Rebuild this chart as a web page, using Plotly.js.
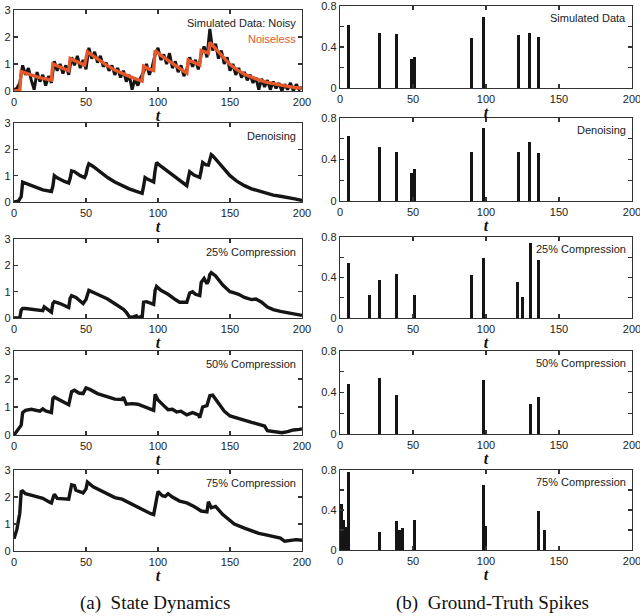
<!DOCTYPE html>
<html>
<head>
<meta charset="utf-8">
<script src="https://cdn.plot.ly/plotly-3.0.1.min.js"></script>
<style>
	html, body { margin: 0; padding: 0; background: #fff; }
	#chart { width: 640px; height: 616px; }
</style>
</head>
<body>
<div id="chart"></div>
<script>
// ---- (a) state dynamics ----
var noisyT = [0,2,4,6,8,10,12,14,16,18,20,22,24,26,28,30,32,34,36,38,40,42,44,46,48,50,52,54,56,58,60,62,64,66,68,70,72,74,76,78,80,82,84,86,88,90,92,94,96,98,100,102,104,106,108,110,112,114,116,118,120,122,124,126,128,130,132,134,136,138,140,142,144,146,148,150,152,154,156,158,160,162,164,166,168,170,172,174,176,178,180,182,184,186,188,190,192,194,196,198,200];
var noisyY = [0.05,0.1,0.3,0.95,0.6,0.85,0.4,0.05,0.7,0.35,
	0.6,0.2,0.55,0.3,1.1,0.75,1.0,0.65,0.95,0.6,
	1.25,0.95,1.3,0.85,1.15,0.8,1.6,1.2,1.45,1.05,
	1.3,0.9,1.05,0.75,0.95,0.6,0.85,0.5,0.75,0.35,
	0.6,0.05,0.45,0.2,0.5,0.7,1.0,0.6,0.9,1.35,
	1.6,1.15,1.35,1.0,1.4,0.85,1.1,0.7,0.95,0.55,
	0.8,1.25,0.9,1.15,0.8,1.35,1.65,1.25,2.3,1.5,
	1.75,1.2,1.5,1.0,1.25,0.75,1.0,0.6,0.85,0.5,
	0.7,0.4,0.6,0.3,0.5,0.05,0.45,0.15,0.4,0.05,
	0.35,0.1,0.3,0.0,0.25,0.05,0.3,0.0,0.25,0.05,
	0.15];

var cleanT = [0,4,5,8,12,16,20,26,27,30,34,38,39,42,46,49,51,55,60,65,70,75,80,85,89,90,93,97,98,102,106,110,115,120,121,125,129,130,133,135,136,140,145,150,155,160,165,170,175,180,185,190,195,200];
var cleanY = [0,0.02,0.72,0.66,0.58,0.52,0.47,0.41,1.0,0.93,0.82,0.75,1.2,1.12,1.02,0.96,1.45,1.3,1.1,0.93,0.78,0.65,0.54,0.44,0.37,0.92,0.83,0.76,1.5,1.32,1.16,1.02,0.84,0.66,1.15,1.04,0.96,1.5,1.43,1.4,1.8,1.58,1.27,0.98,0.78,0.62,0.5,0.41,0.33,0.27,0.21,0.17,0.13,0.1];

var denoiseT = [0,3,4,5,6,10,15,20,26,27,28,30,35,38,39,40,42,46,49,50,51,52,55,60,65,70,75,80,85,89,90,91,93,97,98,99,102,106,110,115,120,121,122,125,129,130,131,133,135,136,137,138,142,146,150,155,160,165,170,175,180,185,190,195,200];
var denoiseY = [0,0.03,0.12,0.2,0.75,0.66,0.55,0.46,0.4,0.6,1.0,0.92,0.78,0.72,0.9,1.18,1.15,1.0,0.93,1.05,1.3,1.45,1.35,1.12,0.93,0.76,0.62,0.5,0.4,0.33,0.6,0.93,0.86,0.76,1.2,1.5,1.36,1.2,1.03,0.82,0.62,0.9,1.15,1.02,0.93,1.2,1.5,1.42,1.4,1.6,1.8,1.76,1.52,1.25,1.0,0.78,0.62,0.5,0.42,0.32,0.26,0.22,0.18,0.12,0.06];

var comp25T = [0,4,5,6,8,12,16,20,21,22,25,26,27,28,32,36,38,39,40,43,48,50,51,52,56,60,65,69,73,76,78,80,82,85,86,88,89,90,92,96,97,98,99,102,107,112,115,120,121,122,124,126,129,130,132,134,135,136,137,140,145,150,153,156,160,165,168,172,176,180,185,190,195,200];
var comp25Y = [0,0,0.3,0.36,0.36,0.33,0.32,0.28,0.42,0.38,0.28,0.22,0.55,0.62,0.55,0.45,0.4,0.75,0.85,0.78,0.55,0.7,0.95,1.05,0.95,0.85,0.72,0.58,0.45,0.33,0.22,0.05,0.02,0.08,0.0,0.05,0.02,0.6,0.62,0.55,0.52,1.05,1.2,1.05,0.9,0.7,0.6,0.6,0.85,0.95,1.0,0.9,0.85,1.35,1.5,1.3,1.4,1.65,1.72,1.6,1.25,1.0,0.95,0.9,0.78,0.7,0.72,0.6,0.42,0.32,0.25,0.2,0.15,0.1];

var comp50T = [0,2,4,5,6,8,12,16,18,20,22,26,27,28,32,36,38,40,42,45,48,50,53,58,62,66,70,75,76,78,82,86,90,95,97,98,100,104,107,110,113,116,120,124,128,129,131,134,136,138,142,146,150,155,160,165,170,174,176,180,186,190,194,198,200];
var comp50Y = [0,0.15,0.28,0.35,0.8,0.88,0.92,0.88,0.85,0.93,0.86,0.8,1.3,1.35,1.25,1.12,1.08,1.55,1.6,1.5,1.48,1.68,1.62,1.48,1.42,1.35,1.28,1.27,1.35,1.1,1.12,1.1,1.02,0.9,0.88,1.45,1.25,1.05,0.9,0.92,0.82,0.85,0.72,0.8,0.72,0.62,1.0,1.05,1.4,1.42,1.15,0.85,0.68,0.6,0.5,0.45,0.38,0.32,0.15,0.12,0.08,0.12,0.18,0.2,0.22];

var comp75T = [0,2,4,5,6,8,15,20,25,26,27,28,30,35,38,40,42,43,48,50,51,55,60,65,70,75,80,85,90,95,97,99,100,103,105,107,110,115,120,125,130,134,135,137,140,145,150,153,160,165,170,175,180,185,188,192,196,200];
var comp75Y = [0.45,0.8,1.4,2.2,2.22,2.12,2.02,1.95,1.8,1.78,1.95,2.1,1.95,1.93,1.92,2.45,2.42,2.25,2.15,2.3,2.55,2.38,2.25,2.12,1.98,1.92,1.78,1.65,1.52,1.38,1.35,2.05,2.2,2.05,2.02,2.12,2.0,1.85,1.78,1.65,1.48,1.45,1.82,1.6,1.65,1.35,1.15,1.0,0.85,0.75,0.65,0.6,0.55,0.48,0.36,0.4,0.42,0.4];

// ---- (b) ground-truth spikes ----
var spikeTrueT = [6,27,39,49,51,90,98,122,130,136];
var spikeTrueH = [0.61,0.54,0.53,0.28,0.3,0.49,0.69,0.52,0.54,0.5];
var spikeDenT = [6,27,39,49,51,90,98,122,130,136];
var spikeDenH = [0.63,0.52,0.47,0.27,0.31,0.47,0.7,0.47,0.57,0.46];
var spike25T = [6,20.5,27,39,51,90,98,121.5,125,130.5,136];
var spike25H = [0.54,0.23,0.38,0.43,0.23,0.42,0.59,0.36,0.21,0.74,0.57];
var spike50T = [6,27,39,98,130.5,136];
var spike50H = [0.48,0.54,0.38,0.52,0.29,0.36];
var spike75T = [1,2.5,4,6,27,39,41,42.5,51,98,100,136,140];
var spike75H = [0.46,0.3,0.23,0.78,0.18,0.29,0.2,0.22,0.3,0.65,0.24,0.39,0.2];

var panelLabels = ['Denoising', '25% Compression', '50% Compression', '75% Compression'];
var xTicks = [0, 50, 100, 150, 200];
var stateTicks = [0, 1, 2, 3];
var spikeTicks = [0, 0.2, 0.4, 0.6, 0.8];
var spikeTickText = ['0', '', '0.4', '', '0.8'];

var ORANGE = '#e5582b';
var INK = '#151515';
var W = 640, H = 616;

// pixel rows (top, bottom) of each panel
var leftRows = [[10,91],[123,202],[239,318],[351,435],[470,551]];
var rightRows = [[6,88],[118,201],[237,318],[351,434],[470,550]];

function yDom(r){
	return [1 - r[1]/H, 1 - r[0]/H];
}

function baseAxis(){
	return {
		showline: true,
		linecolor: '#333',
		linewidth: 1.3,
		mirror: 'ticks',
		ticks: 'inside',
		ticklen: 4,
		tickwidth: 1.2,
		tickcolor: '#333',
		showgrid: false,
		zeroline: false,
		ticklabeloverflow: 'allow',
		tickfont: {family: 'Liberation Sans, Arial, sans-serif', size: 11, color: '#222'}
	};
}

var layout = {
	width: W,
	height: H,
	margin: {l: 0, r: 0, t: 0, b: 0},
	paper_bgcolor: '#fff',
	plot_bgcolor: '#fff',
	showlegend: false,
	bargap: 0,
	annotations: []
};

var data = [];

for(var i = 0; i < 10; i++){
	var n = i + 1;
	var isLeft = i < 5;
	var row = isLeft ? i : i - 5;
	var xa = baseAxis();
	xa.domain = isLeft ? [14/W, 302/W] : [340/W, 632/W];
	xa.range = [0, 200];
	xa.tickmode = 'array';
	xa.tickvals = xTicks;
	xa.anchor = 'y' + n;
	xa.title = {text: '<b><i>t</i></b>', font: {family: 'Liberation Serif, serif', size: 16, color: '#111'}, standoff: 1};
	var ya = baseAxis();
	ya.domain = yDom(isLeft ? leftRows[row] : rightRows[row]);
	ya.anchor = 'x' + n;
	ya.tickmode = 'array';
	if(isLeft){
		ya.range = [0, 3];
		ya.tickvals = stateTicks;
	}
	else{
		ya.range = [0, 0.8];
		ya.tickvals = spikeTicks;
		ya.ticktext = spikeTickText;
	}
	ya.ticklabelstandoff = 0;
	layout['xaxis' + n] = xa;
	layout['yaxis' + n] = ya;
}

function addLine(n, t, y, color, w){
	data.push({
		x: t, y: y, type: 'scatter', mode: 'lines',
		xaxis: 'x' + n, yaxis: 'y' + n,
		line: {color: color, width: w, shape: 'linear'},
		hoverinfo: 'skip'
	});
}

function addSpikes(n, t, h){
	data.push({
		x: t, y: h, type: 'bar', width: 2,
		xaxis: 'x' + n, yaxis: 'y' + n,
		marker: {color: INK, line: {width: 0}},
		hoverinfo: 'skip'
	});
}

function addLabel(n, text, yFrac, color){
	layout.annotations.push({
		xref: 'x' + n + ' domain', yref: 'y' + n + ' domain',
		x: 0.985, y: yFrac, xanchor: 'right', yanchor: 'middle',
		text: text, showarrow: false,
		font: {family: 'Liberation Sans, Arial, sans-serif', size: 11, color: color}
	});
}

// left column
addLine(1, noisyT, noisyY, INK, 3);
addLine(1, cleanT, cleanY, ORANGE, 3.4);
addLine(2, denoiseT, denoiseY, INK, 3.4);
addLine(3, comp25T, comp25Y, INK, 3.4);
addLine(4, comp50T, comp50Y, INK, 3.4);
addLine(5, comp75T, comp75Y, INK, 3.4);

// right column
addSpikes(6, spikeTrueT, spikeTrueH);
addSpikes(7, spikeDenT, spikeDenH);
addSpikes(8, spike25T, spike25H);
addSpikes(9, spike50T, spike50H);
addSpikes(10, spike75T, spike75H);

addLabel(1, 'Simulated Data: Noisy', 0.84, '#222');
addLabel(1, 'Noiseless', 0.64, ORANGE);
addLabel(6, 'Simulated Data', 0.85, '#222');
panelLabels.forEach((lbl, k) => {
	addLabel(k + 2, lbl, 0.84, '#222');
	addLabel(k + 7, lbl, 0.85, '#222');
});

// captions
layout.annotations.push({
	xref: 'paper', yref: 'paper', x: 155/W, y: 1 - 603/H,
	xanchor: 'center', yanchor: 'middle', showarrow: false,
	text: '(a)  State Dynamics',
	font: {family: 'Liberation Serif, Times New Roman, serif', size: 19, color: '#111'}
});
layout.annotations.push({
	xref: 'paper', yref: 'paper', x: 492/W, y: 1 - 603/H,
	xanchor: 'center', yanchor: 'middle', showarrow: false,
	text: '(b)  Ground-Truth Spikes',
	font: {family: 'Liberation Serif, Times New Roman, serif', size: 19, color: '#111'}
});

Plotly.newPlot('chart', data, layout, {displayModeBar: false, staticPlot: true});
</script>
</body>
</html>
